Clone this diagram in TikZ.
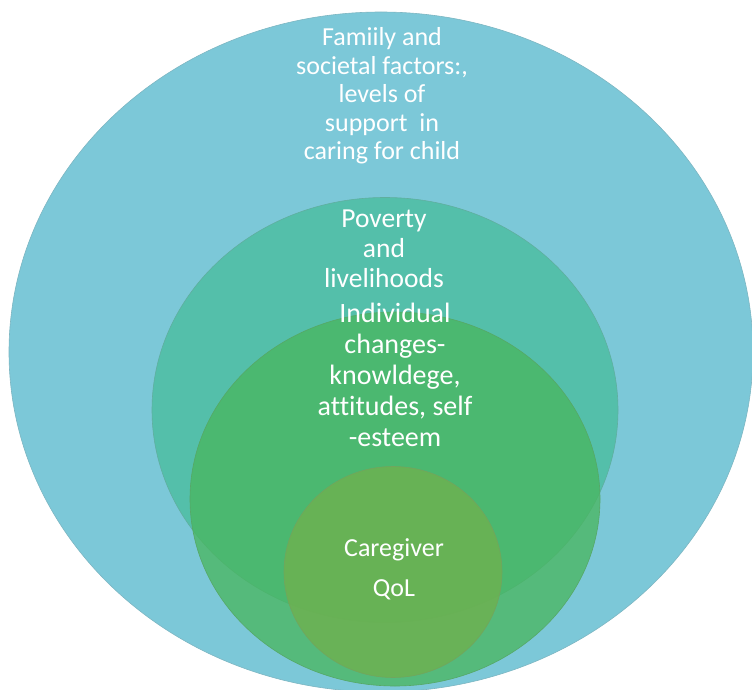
\documentclass[tikz,border=0pt]{standalone}
\usepackage{fontspec}
\setmainfont{Carlito}[Ligatures=NoCommon]
\usepackage{tikz}
\usetikzlibrary{shapes.geometric}

\definecolor{ringfamily}{RGB}{124,200,216}
\definecolor{ringpoverty}{RGB}{84,191,170}
\definecolor{ringself}{RGB}{72,182,93}
\definecolor{ringqol}{RGB}{109,177,81}

\begin{document}
\begin{tikzpicture}[x=1pt, y=-1pt,
        ring/.style={ellipse, inner sep=0pt, line width=0.6pt, fill=#1, draw=#1!75!gray},
        every node/.style={text=white, align=center}]
    \useasboundingbox (0,0) rectangle (752,690);
    % rings, outside in
    \node[ring=ringfamily, minimum width=744pt, minimum height=680pt] (R_family) at (381,352) {};
    \node[ring=ringpoverty, minimum width=466pt, minimum height=425pt] (R_poverty) at (385,410) {};
    \node[ring=ringself, fill opacity=0.75, minimum width=410pt, minimum height=374pt] (R_self) at (395,499) {};
    \node[ring=ringqol, fill opacity=0.85, minimum width=218pt, minimum height=211pt] (R_qol) at (393,572) {};
    % labels (anchored on last baseline)
    \node[anchor=base, font=\fontsize{26}{28.5}\selectfont] (T_family) at (382,160)
        {Famiily and\\societal factors:,\\levels of\\support\ \ in\\caring for child};
    \node[anchor=base, font=\fontsize{27.5}{30}\selectfont] (T_poverty) at (384,287)
        {Poverty\\and\\livelihoods};
    \node[anchor=base, font=\fontsize{28}{30.8}\selectfont] (T_self) at (395,446)
        {Individual\\changes-\\knowldege,\\attitudes, self\\-esteem};
    \node[anchor=base, font=\fontsize{26}{40}\selectfont] (T_qol) at (394,596)
        {Caregiver\\QoL};
\end{tikzpicture}
\end{document}
